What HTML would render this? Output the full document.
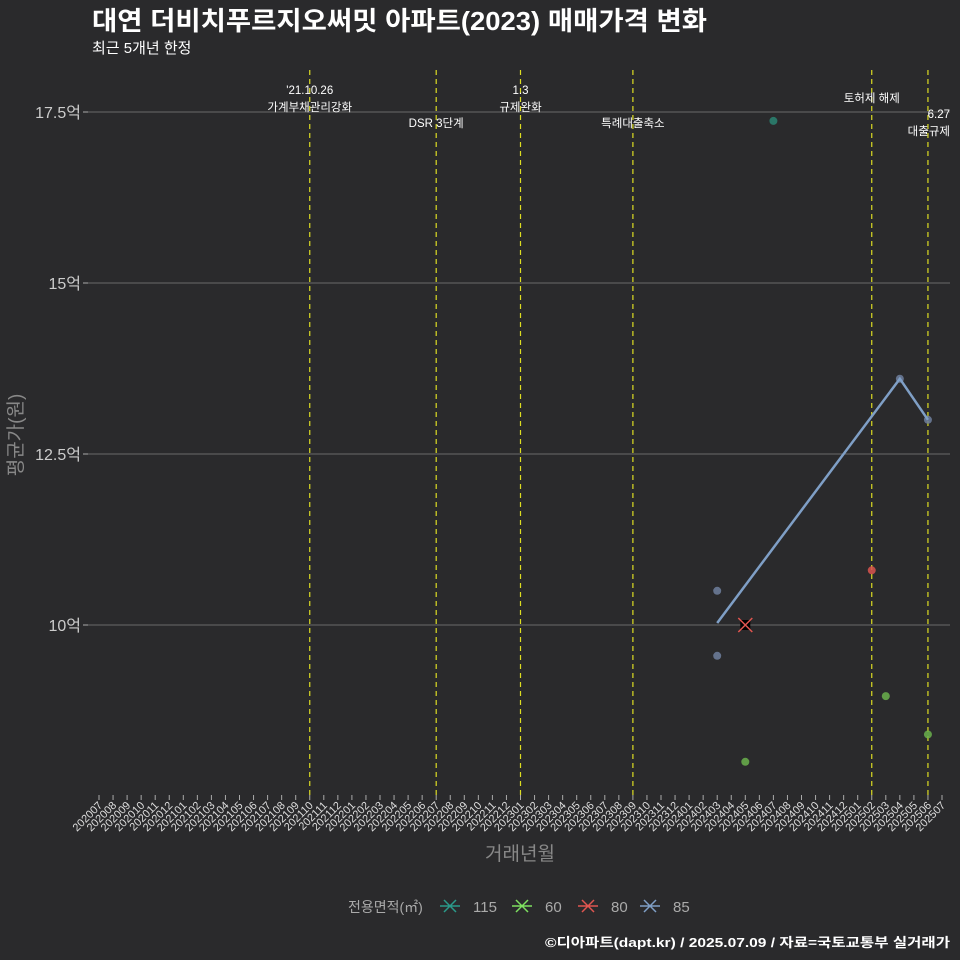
<!DOCTYPE html>
<html><head><meta charset="utf-8"><style>
body{margin:0;background:#2a2a2c;}
svg{display:block;font-family:"Liberation Sans","Noto Sans CJK KR",sans-serif;}
</style></head><body>
<svg id="c" width="960" height="960" viewBox="0 0 960 960">
<rect width="960" height="960" fill="#2a2a2c"/>
<text x="92" y="30" font-size="26" font-weight="bold" fill="#fff" textLength="615" lengthAdjust="spacingAndGlyphs">대연 더비치푸르지오써밋 아파트(2023) 매매가격 변화</text>
<text x="92" y="53" font-size="15" fill="#fff">최근 5개년 한정</text>
<g id="grid"></g><g id="vl"></g><g id="marks"></g><g id="xt"></g>
<text x="520" y="860" font-size="19" fill="#888" text-anchor="middle">거래년월</text>
<text transform="translate(22,435) rotate(-90)" font-size="19" fill="#888" text-anchor="middle">평균가(원)</text>
<g id="legend"></g>
<text x="545" y="947" font-size="13" font-weight="bold" fill="#fff" textLength="405" lengthAdjust="spacingAndGlyphs">©디아파트(dapt.kr) / 2025.07.09 / 자료=국토교통부 실거래가</text>
</svg>
<script>
const months=[];for(let y=2020;y<=2025;y++)for(let m=1;m<=12;m++){if((y==2020&&m<7)||(y==2025&&m>7))continue;months.push(y+String(m).padStart(2,'0'));}
const yTicks=[10,12.5,15,17.5];
const yLabels=['10억','12.5억','15억','17.5억'];
const events=['202110','202207','202301','202309','202502','202506'];
const eventLabels=[["'21.10.26","가계부채관리강화"],["DSR 3단계"],["1.3","규제완화"],["특례대출축소"],["토허제 해제"],["6.27","대출규제"]];
const eventLabelY=[[94,111],[127],[94,111],[127],[102],[118,135]];
const line85Months=['202403','202504','202506'];
const line85Values=[10.03,13.6,13.0];
const pt85Months=['202403','202403','202504','202506'];
const pt85Values=[10.5,9.55,13.6,13.0];
const pt80Months=['202502'];const pt80Values=[10.8];
const mean80Months=['202405'];const mean80Values=[10.0];
const pt60Months=['202405','202503','202506'];const pt60Values=[8.0,8.96,8.4];
const pt115Months=['202407'];const pt115Values=[17.37];
const X=m=>99+14.05*months.indexOf(m);
const Y=v=>625-(v-10)*68.4;
const NS='http://www.w3.org/2000/svg';
function mk(p,t,a){const e=document.createElementNS(NS,t);for(const k in a)e.setAttribute(k,a[k]);document.getElementById(p).appendChild(e);return e;}
yTicks.forEach((v,i)=>{
const g=mk('grid','line',{x1:88,x2:950,y1:Y(v),y2:Y(v),stroke:'#6a6a6a','stroke-width':1});


const tk=mk('grid','line',{x1:83,x2:88,y1:Y(v),y2:Y(v),stroke:'#aaa'});


const t=mk('grid','text',{x:81,y:Y(v)+6,'font-size':16,fill:'#ccc','text-anchor':'end'});t.textContent=yLabels[i];


});
events.forEach((m,i)=>{
const l=mk('vl','line',{x1:X(m),x2:X(m),y1:70,y2:795,stroke:'#dddd22','stroke-dasharray':'5,4','stroke-width':1.2});


eventLabels[i].forEach((s,j)=>{
const anchor=(m=='202506')?'end':'middle';const xx=(m=='202506')?950:X(m);
const t=mk('vl','text',{x:xx,y:eventLabelY[i][j],'font-size':11.5,fill:'#fff','text-anchor':anchor});t.textContent=s;


});
});
months.forEach(m=>{
const x=X(m);
const tk=mk('xt','line',{x1:x,x2:x,y1:795,y2:800,stroke:'#aaa'});


const t=mk('xt','text',{x:0,y:0,'font-size':11,fill:'#ddd','text-anchor':'end',transform:`translate(${x+4},${806}) rotate(-45)`});t.textContent=m;


});
function pts(ms,vs,col,op,name){ms.forEach((m,i)=>{const c=mk('marks','circle',{cx:X(m),cy:Y(vs[i]),r:4,fill:col,opacity:op});

});}
pts(pt85Months,pt85Values,'#6f7f9e',0.85,'point-85');
pts(pt80Months,pt80Values,'#d9534f',0.85,'point-80');
pts(pt60Months,pt60Values,'#6ab04c',0.85,'point-60');
pts(pt115Months,pt115Values,'#2a7a6a',0.95,'point-115');
const pl=mk('marks','polyline',{points:line85Months.map((m,i)=>X(m)+','+Y(line85Values[i])).join(' '),fill:'none',stroke:'#7f9fc6','stroke-width':2.5});


mean80Months.forEach((m,i)=>{const x=X(m),y=Y(mean80Values[i]);
const r=mk('marks','rect',{x:x-5,y:y-5,width:10,height:10,fill:'#000'});


const p=mk('marks','path',{d:`M${x-7},${y-7}L${x+7},${y+7}M${x+7},${y-7}L${x-7},${y+7}`,stroke:'#e05550','stroke-width':1.5});

});
const legKeys=['115','60','80','85'];const legCols=['#2a9a8a','#7ee060','#e05550','#7f9fc6'];
const legX=[440,512,578,640];
const lt=mk('legend','text',{x:348,y:912,'font-size':14,fill:'#aaa'});lt.textContent='전용면적(㎡)';


legKeys.forEach((k,i)=>{
const lx=legX[i];
const g=mk('legend','path',{d:`M${lx},906H${lx+20}M${lx+4},900L${lx+16},912M${lx+16},900L${lx+4},912`,stroke:legCols[i],'stroke-width':1.5});


const t=mk('legend','text',{x:lx+33,y:912,'font-size':15,fill:'#aaa'});t.textContent=k;


});
</script>
</body></html>
